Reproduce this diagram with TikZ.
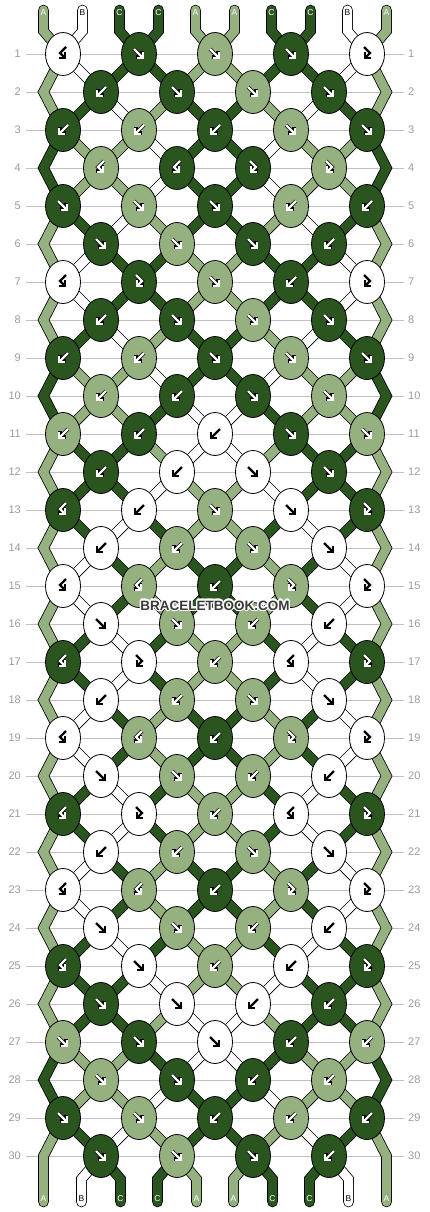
\documentclass[tikz,border=0pt]{standalone}
\usepackage{fontspec}
\setmainfont{Liberation Sans}
\usepackage{tikz}
\usepackage{contour}
\usetikzlibrary{shapes.geometric,arrows.meta}
\contourlength{1.3pt}

\definecolor{colA}{RGB}{150,177,128}
\definecolor{colB}{RGB}{255,255,255}
\definecolor{colC}{RGB}{42,85,30}
\definecolor{gridgray}{RGB}{192,192,192}
\definecolor{numgray}{RGB}{155,155,155}
\definecolor{wmgray}{RGB}{58,58,58}

\tikzset{
  thread/.style={line width=0.8pt, draw=black, double=col#1, double distance=9pt},
  knot/.style={ellipse, draw=black, line width=0.8pt, fill=col#1,
    minimum width=35pt, minimum height=43pt, inner sep=0pt},
  rowline/.style={gridgray, line width=0.8pt},
  rownum/.style={numgray, font=\fontsize{11}{13}\selectfont, inner sep=0pt},
  endlabel/.style={font=\fontsize{8.5}{10}\selectfont, inner sep=0pt},
  arrhalo/.style={black, line width=3.8pt, -{Straight Barb[length=4pt,width=8pt]}},
  arrwhite/.style={white, line width=2.2pt, -{Straight Barb[length=4pt,width=8pt]}},
  arrblack/.style={black, line width=2.4pt, -{Straight Barb[length=4pt,width=8pt]}}
}

% knot symbols: forward, backward, forward-backward, backward-forward
\newcommand\arrf[2]{\draw[#1,shift={(#2)}] (-5,-5) -- (5,5);}
\newcommand\arrb[2]{\draw[#1,shift={(#2)}] (5,-5) -- (-5,5);}
\newcommand\arrfb[2]{\draw[#1,shift={(#2)}] (-3,-7) -- (3,-1) -- (-3,5);}
\newcommand\arrbf[2]{\draw[#1,shift={(#2)}] (3,-7) -- (-3,-1) -- (3,5);}

\begin{document}
\begin{tikzpicture}[x=1pt,y=-1pt]
\useasboundingbox (0,0) rectangle (430,1212);

% row numbers and rulers
\foreach \rw in {1,...,30}{
  \pgfmathsetmacro\yy{54+38*(\rw-1)}
  \node[rownum, anchor=east] (nl-\rw) at (21,\yy) {\rw};
  \node[rownum, anchor=west] (nr-\rw) at (408,\yy) {\rw};
  \draw[rowline] ([xshift=5pt]nl-\rw.east) -- ([xshift=-4pt]nr-\rw.west);
}

% thread positions
\foreach \rw in {1,...,30}{
  \pgfmathsetmacro\yy{54+38*(\rw-1)}
  \foreach \ps in {0,...,9}{
    \ifodd\rw
      \pgfmathsetmacro\xx{63+76*floor(\ps/2)}
    \else
      \pgfmathsetmacro\xx{\ps==0 ? 43.5 : (\ps==9 ? 386.5 : 101+76*floor((\ps-1)/2))}
    \fi
    \coordinate (p-\rw-\ps) at (\xx,\yy);
  }
}
\foreach \ps in {0,...,9}{
  \pgfmathsetmacro\xx{63+76*floor(\ps/2)+(mod(\ps,2)==0 ? -19.5 : 19.5)}
  \coordinate (t-\ps) at (\xx,10);
  \coordinate (tb-\ps) at (\xx,31);
  \pgfmathsetmacro\xb{\ps==0 ? 43.5 : (\ps==9 ? 386.5 : 101+76*floor((\ps-1)/2)+(mod(\ps,2)==1 ? -19.5 : 19.5))}
  \coordinate (bb-\ps) at (\xb,1179);
  \coordinate (b-\ps) at (\xb,1202);
}

% threads
\foreach \kc [count=\ps from 0] in {A,B,C,C,A,A,C,C,B,A}
  \draw[thread=\kc, line cap=round] (t-\ps) -- (tb-\ps) -- (p-1-\ps);

\foreach \rw/\kc in {1/A,3/C,5/A,7/A,9/C,11/A,13/A,15/A,17/A,19/A,21/A,23/A,25/A,27/C}{
  \pgfmathtruncatemacro\rn{\rw+1}
  \pgfmathtruncatemacro\rnn{\rw+2}
  \draw[thread=\kc] (p-\rw-0) -- (p-\rn-0) -- (p-\rnn-0);
  \draw[thread=\kc] (p-\rw-9) -- (p-\rn-9) -- (p-\rnn-9);
}
\draw[thread=A, line cap=round] (p-29-0) -- (p-30-0) -- (b-0);
\draw[thread=A, line cap=round] (p-29-9) -- (p-30-9) -- (b-9);

\foreach \rw/\sts in {
    1/{B,C,C,A,A,C,C,B}, 2/{C,B,A,C,C,A,B,C}, 3/{A,A,B,C,C,B,A,A},
    4/{A,A,B,C,C,B,A,A}, 5/{C,B,A,C,C,A,B,C}, 6/{B,C,C,A,A,C,C,B},
    7/{B,C,C,A,A,C,C,B}, 8/{C,B,A,C,C,A,B,C}, 9/{A,A,B,C,C,B,A,A},
    10/{A,A,C,B,B,C,A,A}, 11/{C,C,A,B,B,A,C,C}, 12/{C,C,B,A,A,B,C,C},
    13/{C,B,C,A,A,C,B,C}, 14/{B,C,A,C,C,A,C,B}, 15/{B,C,A,C,C,A,C,B},
    16/{C,B,C,A,A,C,B,C}, 17/{C,B,C,A,A,C,B,C}, 18/{B,C,A,C,C,A,C,B},
    19/{B,C,A,C,C,A,C,B}, 20/{C,B,C,A,A,C,B,C}, 21/{C,B,C,A,A,C,B,C},
    22/{B,C,A,C,C,A,C,B}, 23/{B,C,A,C,C,A,C,B}, 24/{C,B,C,A,A,C,B,C},
    25/{C,C,B,A,A,B,C,C}, 26/{C,C,A,B,B,A,C,C}, 27/{A,A,C,B,B,C,A,A},
    28/{A,A,B,C,C,B,A,A}, 29/{C,B,A,C,C,A,B,C}}{
  \pgfmathtruncatemacro\rn{\rw+1}
  \foreach \kc [count=\ps] in \sts
    \draw[thread=\kc] (p-\rw-\ps) -- (p-\rn-\ps);
}

\foreach \kc [count=\ps] in {B,C,C,A,A,C,C,B}
  \draw[thread=\kc, line cap=round] (p-30-\ps) -- (bb-\ps) -- (b-\ps);

% knots
\foreach \rw/\ks in {
    1/{bf/B,f/C,f/A,f/C,fb/B}, 2/{b/C,f/C,f/A,f/C},
    3/{b/C,b/A,b/C,f/A,f/C}, 4/{bf/A,bf/C,fb/C,fb/A},
    5/{f/C,f/A,f/C,b/A,b/C}, 6/{f/C,f/A,f/C,b/C},
    7/{bf/B,fb/C,f/A,b/C,fb/B}, 8/{b/C,f/C,f/A,f/C},
    9/{b/C,b/A,f/C,f/A,f/C}, 10/{b/A,b/C,f/C,f/A},
    11/{b/A,b/C,b/B,f/C,f/A}, 12/{b/C,b/B,f/B,f/C},
    13/{bf/C,b/B,f/A,f/B,fb/C}, 14/{b/B,b/A,f/A,f/B},
    15/{bf/B,bf/A,b/C,fb/A,fb/B}, 16/{f/B,f/A,b/A,b/B},
    17/{bf/C,fb/B,b/A,bf/B,fb/C}, 18/{b/B,b/A,f/A,f/B},
    19/{bf/B,bf/A,b/C,fb/A,fb/B}, 20/{f/B,f/A,b/A,b/B},
    21/{bf/C,fb/B,b/A,bf/B,fb/C}, 22/{b/B,b/A,f/A,f/B},
    23/{bf/B,bf/A,b/C,fb/A,fb/B}, 24/{f/B,f/A,b/A,b/B},
    25/{bf/C,f/B,b/A,b/B,fb/C}, 26/{f/C,f/B,b/B,b/C},
    27/{f/A,f/C,f/B,b/C,b/A}, 28/{f/A,f/C,b/C,b/A},
    29/{f/C,f/A,b/C,b/A,b/C}, 30/{f/C,f/A,f/C,b/C}}{
  \foreach \kt/\kc [count=\jk from 0] in \ks {
    \ifodd\rw
      \pgfmathtruncatemacro\lp{2*\jk}
    \else
      \pgfmathtruncatemacro\lp{2*\jk+1}
    \fi
    \node[knot=\kc] (k-\rw-\jk) at (p-\rw-\lp) {};
    \if B\kc
      \csname arr\kt\endcsname{arrblack}{k-\rw-\jk}
    \else
      \csname arr\kt\endcsname{arrhalo}{k-\rw-\jk}
      \csname arr\kt\endcsname{arrwhite}{k-\rw-\jk}
    \fi
  }
}

% thread letters
\foreach \kc [count=\ps from 0] in {A,B,C,C,A,A,C,C,B,A}{
  \if B\kc \def\lc{black}\else\def\lc{white}\fi
  \node[endlabel, text=\lc] (lt-\ps) at ([yshift=-3pt]t-\ps) {\kc};
  \node[endlabel, text=\lc] (lb-\ps) at ([yshift=3pt]b-\ps) {\kc};
}

\node[font=\bfseries\fontsize{13.5}{15}\selectfont, text=wmgray, inner sep=0pt] (wm) at (215,606) {\contour{white}{BRACELETBOOK.COM}};
\end{tikzpicture}
\end{document}
